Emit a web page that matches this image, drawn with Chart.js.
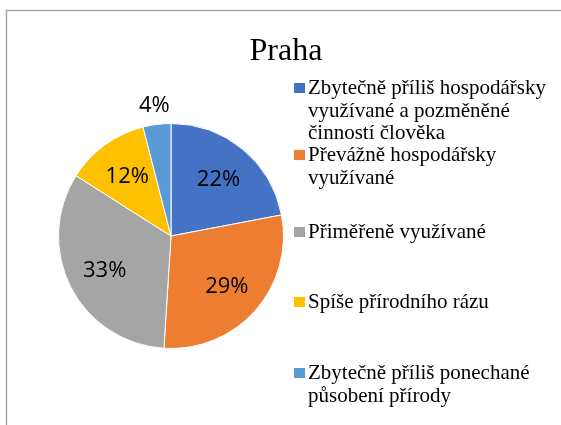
<!DOCTYPE html>
<html>
<head>
<meta charset="utf-8">
<script src="https://cdn.jsdelivr.net/npm/chart.js@4/dist/chart.umd.min.js"></script>
<style>
html,body{margin:0;padding:0;background:#fff;}
#wrap{position:relative;width:561px;height:425px;}
.pre1{font-family:'Liberation Serif';position:absolute;left:-999px;}
.pre2{font-family:'Open Sans';position:absolute;left:-999px;}
</style>
</head>
<body>
<span class="pre1">Přiměřeně</span><span class="pre2">22%</span>
<div id="wrap"><canvas id="c" width="561" height="425"></canvas></div>
<script>
const chartTitle = "Praha";
const categories = [
  "Zbytečně příliš hospodářsky využívané a pozměněné činností člověka",
  "Převážně hospodářsky využívané",
  "Přiměřeně využívané",
  "Spíše přírodního rázu",
  "Zbytečně příliš ponechané působení přírody"
];
const values = [22, 29, 33, 12, 4];
const colors = ["#4472C4", "#ED7D31", "#A5A5A5", "#FFC000", "#5B9BD5"];

const SERIF = "'Liberation Serif', 'DejaVu Serif', serif";

const overlay = {
  id: "overlay",
  afterDraw(chart) {
    const ctx = chart.ctx;
    ctx.save();
    // frame
    ctx.strokeStyle = "#A6A6A6";
    ctx.lineWidth = 1.5;
    ctx.strokeRect(6.5, 10.5, 700, 600);
    // title
    ctx.fillStyle = "#000";
    ctx.font = "32px " + SERIF;
    ctx.textAlign = "center";
    ctx.textBaseline = "alphabetic";
    ctx.fillText(chartTitle, 286, 60);
    // data labels
    const meta = chart.getDatasetMeta(0);
    const total = values.reduce((a, b) => a + b, 0);
    ctx.font = "22px 'Open Sans', sans-serif";
    ctx.textAlign = "center";
    ctx.textBaseline = "middle";
    meta.data.forEach((arc, i) => {
      const p = arc.getProps(["x", "y", "startAngle", "endAngle", "outerRadius"], true);
      const mid = (p.startAngle + p.endAngle) / 2;
      const pct = Math.round(values[i] / total * 100);
      const r = pct < 5 ? p.outerRadius * 1.18 : p.outerRadius * 0.662;
      ctx.fillStyle = "#000";
      ctx.fillText(pct + "%", p.x + Math.cos(mid) * r, p.y + Math.sin(mid) * r + 1);
    });
    // legend
    const baselines = [94, 161, 238, 308, 379];
    const lineH = 22.5;
    ctx.font = "21px " + SERIF;
    ctx.textAlign = "left";
    ctx.textBaseline = "alphabetic";
    const maxW = 250;
    categories.forEach((label, i) => {
      const words = label.split(" ");
      const lines = [];
      let cur = "";
      words.forEach(w => {
        const t = cur ? cur + " " + w : w;
        if (ctx.measureText(t).width > maxW && cur) { lines.push(cur); cur = w; }
        else cur = t;
      });
      if (cur) lines.push(cur);
      const b = baselines[i];
      ctx.fillStyle = colors[i];
      ctx.fillRect(294, b - 11, 11, 10);
      ctx.fillStyle = "#000";
      lines.forEach((ln, k) => ctx.fillText(ln, 308, b + k * lineH));
    });
    ctx.restore();
  }
};

function build() {
  new Chart(document.getElementById("c"), {
    type: "pie",
    data: {
      labels: categories,
      datasets: [{
        data: values,
        backgroundColor: colors,
        borderColor: "#FFFFFF",
        borderWidth: 1
      }]
    },
    options: {
      responsive: false,
      animation: false,
      devicePixelRatio: 1,
      layout: { padding: { left: 58, right: 277, top: 123, bottom: 76 } },
      plugins: {
        legend: { display: false },
        title: { display: false },
        tooltip: { enabled: false }
      }
    },
    plugins: [overlay]
  });
}
Promise.all([
  document.fonts.load("21px 'Liberation Serif'", "Přiměřeně"),
  document.fonts.load("22px 'Open Sans'", "22%")
]).then(build, build);
</script>
</body>
</html>
